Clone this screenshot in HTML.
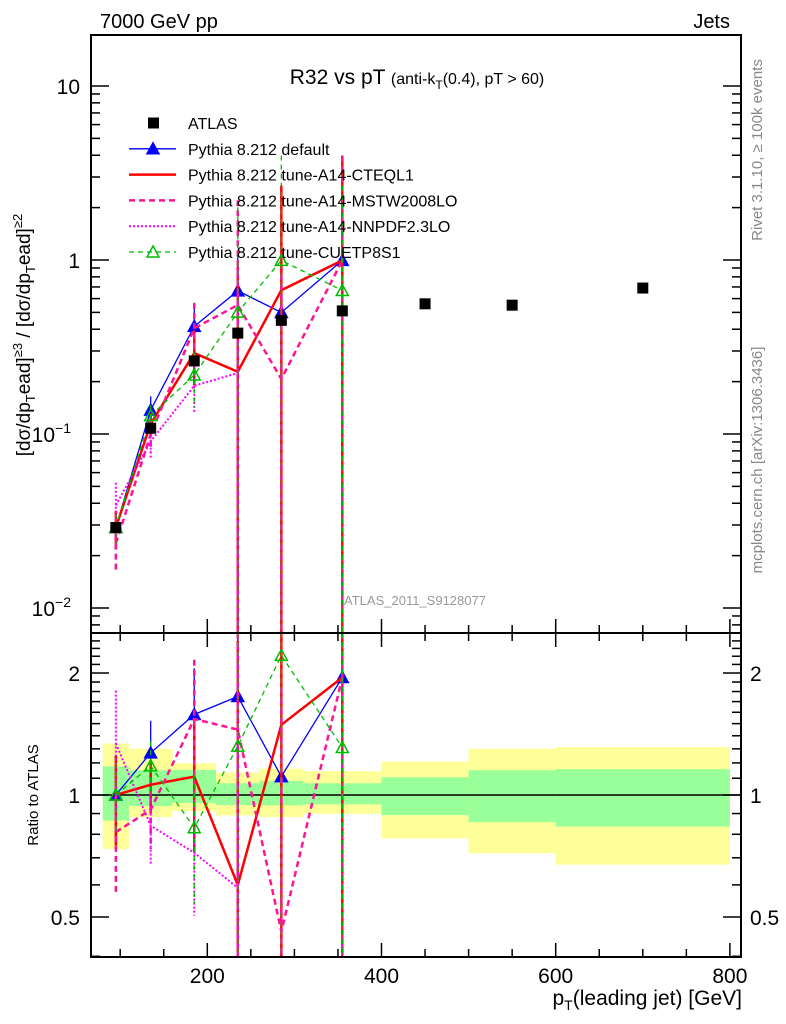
<!DOCTYPE html>
<html><head><meta charset="utf-8"><style>
body{margin:0;background:#fff}
svg{display:block;font-family:"Liberation Sans",sans-serif}
</style></head><body>
<svg id="c" width="786" height="1024" viewBox="0 0 786 1024"></svg>
<script>
const binsLo=[80,110,160,210,260,310,400,500,600];
const binsHi=[110,160,210,260,310,400,500,600,800];
const yellowHi=[1.34,1.30,1.198,1.136,1.162,1.145,1.21,1.30,1.313];
const yellowLo=[0.736,0.882,0.913,0.890,0.882,0.899,0.781,0.718,0.673];
const greenHi=[1.176,1.151,1.153,1.069,1.083,1.069,1.106,1.151,1.158];
const greenLo=[0.865,0.939,0.955,0.944,0.943,0.948,0.892,0.857,0.836];
const atlasX=[95,135,185,235,285,355,450,550,700];
const atlasY=[0.029,0.108,0.263,0.38,0.45,0.51,0.56,0.55,0.69];
const mcX=[95,135,185,235,285,355];
const ratioDefault=[1.0,1.27,1.58,1.75,1.11,1.95];
const errDefault=[0.2,0.2,0.3,0.6,3,3];
const ratioCTEQ=[1.0,1.06,1.11,0.60,1.49,1.95];
const errCTEQ=[0.25,0.15,0.35,3,3,3];
const ratioMSTW=[0.81,0.92,1.54,1.45,0.46,1.95];
const errMSTW=[0.3,0.2,0.4,3,3,3];
const ratioNNPDF=[1.34,0.84,0.72,0.59];
const errNNPDF=[0.35,0.2,0.3,3];
const ratioCUET=[1.0,1.18,0.83,1.32,2.21,1.31];
const errCUET=[0.2,0.15,0.35,3,3,3];
const xTicksMajor=[200,400,600,800];
const ratioTicks=[0.5,1,2];

const NS="http://www.w3.org/2000/svg";
const svg=document.getElementById('c');
const L=91,R=741,T=35,MID=633,B=957;
const X=v=>33.1+0.871*v;
const YM=v=>260-174*Math.log10(v);
const YR=v=>795-122*Math.log2(v);
function el(t,a,p){const e=document.createElementNS(NS,t);for(const k in a)e.setAttribute(k,a[k]);(p||svg).appendChild(e);return e;}
function txt(s,a,p){const e=el('text',a,p);e.textContent=s;return e;}
function clampM(y){return Math.max(T,Math.min(MID,y));}
function clampR(y){return Math.max(MID,Math.min(B,y));}

// bands
for(let i=0;i<binsLo.length;i++){
 const x1=X(binsLo[i]),x2=X(binsHi[i]);
 const yb=el('rect',{x:x1,y:YR(yellowHi[i]),width:x2-x1,height:YR(yellowLo[i])-YR(yellowHi[i]),fill:'#ffff99'});
 
 
 const gb=el('rect',{x:x1,y:YR(greenHi[i]),width:x2-x1,height:YR(greenLo[i])-YR(greenHi[i]),fill:'#99ff99'});
 
 
}
el('line',{x1:L,x2:R,y1:YR(1),y2:YR(1),stroke:'#000','stroke-width':1.5});

const series=[
 {name:'pythia-default',r:ratioDefault,e:errDefault,c:'#0000ff',w:1.3,d:'',m:'tri'},
 {name:'pythia-cteql1',r:ratioCTEQ,e:errCTEQ,c:'#ff0000',w:2.5,d:'',m:''},
 {name:'pythia-mstw2008lo',r:ratioMSTW,e:errMSTW,c:'#ff1493',w:2.5,d:'6,4',m:''},
 {name:'pythia-nnpdf23lo',r:ratioNNPDF,e:errNNPDF,c:'#ff00ff',w:2,d:'2,2',m:''},
 {name:'pythia-cuetp8s1',r:ratioCUET,e:errCUET,c:'#00bb00',w:1.3,d:'5,4',m:'otri'}
];
function tri(x,y,c,open,p){const t=el('polygon',{points:`${x},${y-6} ${x-6},${y+5} ${x+6},${y+5}`,fill:open?'none':c,stroke:c,'stroke-width':1.5},p);return t;}
const gM=el('g',{'clip-path':'url(#cm)'});const gR=el('g',{'clip-path':'url(#cr)'});
const defs=el('defs',{});
const cm=el('clipPath',{id:'cm'},defs);el('rect',{x:L,y:T,width:R-L,height:MID-T},cm);
const cr=el('clipPath',{id:'cr'},defs);el('rect',{x:L,y:MID,width:R-L,height:B-MID},cr);
series.forEach(s=>{
 const ptsM=[],ptsR=[];
 s.r.forEach((r,i)=>{
  const x=X(mcX[i]);const v=r*atlasY[i];
  ptsM.push(x+','+YM(v));ptsR.push(x+','+YR(r));
  const eh=r*(1+s.e[i]),elo=Math.max(r*(1-s.e[i]),0.001);
  const b1=el('line',{x1:x,x2:x,y1:clampM(YM(eh*atlasY[i])),y2:clampM(YM(elo*atlasY[i])),stroke:s.c,'stroke-width':s.w,'stroke-dasharray':s.d},gM);
  
  
  const b2=el('line',{x1:x,x2:x,y1:clampR(YR(eh)),y2:clampR(YR(elo)),stroke:s.c,'stroke-width':s.w,'stroke-dasharray':s.d},gR);
  
  
 });
 const l1=el('polyline',{points:ptsM.join(' '),fill:'none',stroke:s.c,'stroke-width':s.w,'stroke-dasharray':s.d},gM);
 
 
 const l2=el('polyline',{points:ptsR.join(' '),fill:'none',stroke:s.c,'stroke-width':s.w,'stroke-dasharray':s.d},gR);
 
 
 if(s.m){s.r.forEach((r,i)=>{const x=X(mcX[i]);
  const t1=tri(x,YM(r*atlasY[i]),s.c,s.m==='otri',gM);
  const t2=tri(x,YR(r),s.c,s.m==='otri',gR);});}
});
atlasX.forEach((xv,i)=>{
 const m=el('rect',{x:X(xv)-5.5,y:YM(atlasY[i])-5.5,width:11,height:11,fill:'#000'});
 
 
});

// frames
el('rect',{x:L,y:T,width:R-L,height:MID-T,fill:'none',stroke:'#000','stroke-width':2});
el('rect',{x:L,y:MID,width:R-L,height:B-MID,fill:'none',stroke:'#000','stroke-width':2});
// x ticks
for(let v=100;v<=800;v+=50){const x=X(v);const maj=v%200===0;const h=maj?14:8;
 [MID,B].forEach(y0=>{el('line',{x1:x,x2:x,y1:y0,y2:y0-h,stroke:'#000','stroke-width':1.5});});
 el('line',{x1:x,x2:x,y1:MID,y2:MID+h,stroke:'#000','stroke-width':1.5});
}
xTicksMajor.forEach(v=>{const t=txt(v,{x:X(v),y:983,'font-size':21,'text-anchor':'middle'});});
// main y ticks
for(let d=-3;d<=1;d++){for(let k=1;k<10;k++){const v=k*Math.pow(10,d);const y=YM(v);if(y<T||y>MID)continue;const h=k===1?18:9;
 el('line',{x1:L,x2:L+h,y1:y,y2:y,stroke:'#000','stroke-width':1.5});el('line',{x1:R,x2:R-h,y1:y,y2:y,stroke:'#000','stroke-width':1.5});}}
const ml=[['10',1],['1',0]];
txt('10',{x:80,y:YM(10)+8,'font-size':21,'text-anchor':'end'});
txt('1',{x:80,y:YM(1)+8,'font-size':21,'text-anchor':'end'});
const t01=txt('10',{x:71,y:YM(0.1)+8,'font-size':21,'text-anchor':'end'});el('tspan',{dy:-9,'font-size':14},t01).textContent='−1';
const t001=txt('10',{x:71,y:YM(0.01)+8,'font-size':21,'text-anchor':'end'});el('tspan',{dy:-9,'font-size':14},t001).textContent='−2';
// ratio y ticks
for(let v=0.4;v<=2.5;v+=0.1){const y=YR(v);if(y<MID||y>B)continue;const maj=Math.abs(v-0.5)<1e-6||Math.abs(v-1)<1e-6||Math.abs(v-2)<1e-6;const h=maj?18:9;
 el('line',{x1:L,x2:L+h,y1:y,y2:y,stroke:'#000','stroke-width':1.5});el('line',{x1:R,x2:R-h,y1:y,y2:y,stroke:'#000','stroke-width':1.5});}
ratioTicks.forEach(v=>{txt(v,{x:80,y:YR(v)+8,'font-size':21,'text-anchor':'end'});txt(v,{x:750,y:YR(v)+8,'font-size':21});});

// legend
const lg=[['ATLAS','#000','','sq',1],['Pythia 8.212 default','#0000ff','','tri',1.3],['Pythia 8.212 tune-A14-CTEQL1','#ff0000','','',2.5],['Pythia 8.212 tune-A14-MSTW2008LO','#ff1493','6,4','',2.5],['Pythia 8.212 tune-A14-NNPDF2.3LO','#ff00ff','2,2','',2],['Pythia 8.212 tune-CUETP8S1','#00bb00','5,4','otri',1.3]];
lg.forEach((e,i)=>{const y=123+i*25.8;const g=el('g',{});
 
 
 if(e[3]==='sq'){el('rect',{x:148,y:y-5.5,width:11,height:11,fill:'#000'},g);}
 else{el('line',{x1:129,x2:176,y1:y,y2:y,stroke:e[1],'stroke-width':e[4],'stroke-dasharray':e[2]},g);if(e[3])tri(153,y,e[1],e[3]==='otri',g);}
 txt(e[0],{x:188,y:y+6,'font-size':16},g);
});
// texts
txt('7000 GeV pp',{x:100,y:28,'font-size':20,});
txt('Jets',{x:730,y:28,'font-size':20,'text-anchor':'end',});
const tt=txt('R32 vs pT ',{x:417,y:84,'font-size':21,'text-anchor':'middle',});
el('tspan',{'font-size':16},tt).textContent='(anti-k';el('tspan',{'font-size':12,dy:5},tt).textContent='T';el('tspan',{'font-size':16,dy:-5},tt).textContent='(0.4), pT > 60)';
txt('ATLAS_2011_S9128077',{x:415,y:605,'font-size':13,fill:'#999','text-anchor':'middle',});
txt('Rivet 3.1.10, ≥ 100k events',{x:0,y:0,'font-size':15,fill:'#888','text-anchor':'middle',transform:'translate(762,150) rotate(-90)',});
txt('mcplots.cern.ch [arXiv:1306.3436]',{x:0,y:0,'font-size':15,fill:'#888','text-anchor':'middle',transform:'translate(762,460) rotate(-90)',});
const yl=txt('[dσ/dp',{x:0,y:0,'font-size':19,'text-anchor':'middle',transform:'translate(30,335) rotate(-90)',});
el('tspan',{'font-size':13,dy:5},yl).textContent='T';el('tspan',{dy:-5},yl).textContent='ead]';el('tspan',{'font-size':13,dy:-8},yl).textContent='≥3';el('tspan',{dy:8},yl).textContent=' / [dσ/dp';el('tspan',{'font-size':13,dy:5},yl).textContent='T';el('tspan',{dy:-5},yl).textContent='ead]';el('tspan',{'font-size':13,dy:-8},yl).textContent='≥2';
txt('Ratio to ATLAS',{x:0,y:0,'font-size':15,'text-anchor':'middle',transform:'translate(38,795) rotate(-90)',});
const xl=txt('p',{x:742,y:1005,'font-size':21,'text-anchor':'end',});
el('tspan',{'font-size':14,dy:5},xl).textContent='T';el('tspan',{dy:-5},xl).textContent='(leading jet) [GeV]';
</script>
</body></html>
